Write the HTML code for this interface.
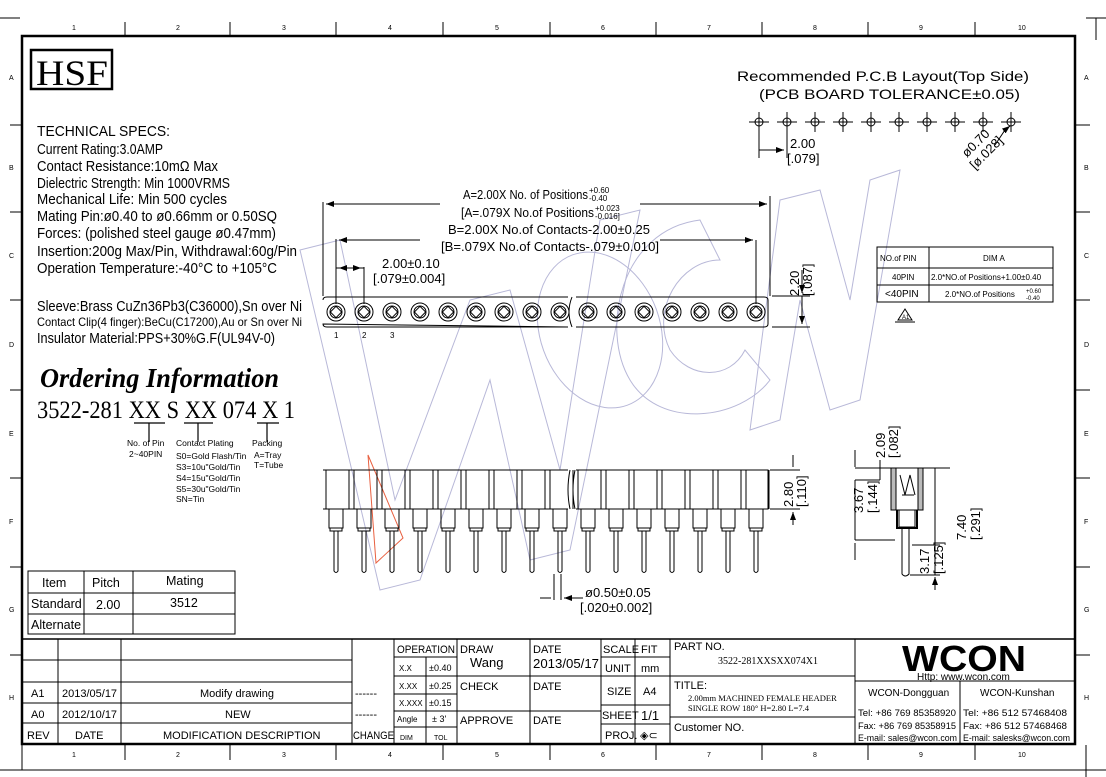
<!DOCTYPE html>
<html><head><meta charset="utf-8"><style>
body{margin:0;background:#fff}
svg{display:block}
text{font-family:"Liberation Sans",sans-serif;fill:#000}
.s{font-family:"Liberation Serif",serif}
</style></head><body>
<svg width="1106" height="777" viewBox="0 0 1106 777" xmlns="http://www.w3.org/2000/svg">
<defs>
<marker id="a" markerWidth="8" markerHeight="6" refX="8" refY="3" orient="auto" markerUnits="userSpaceOnUse"><path d="M0,0 L8,3 L0,6 z" fill="#000"/></marker>
</defs>
<g stroke="#000" fill="none">
<rect x="22" y="36" width="1053" height="708" stroke-width="2.5"/>
<path d="M0,18 H20 M1086,18 H1106 M1096,18 V40 M0,770 H1106 M1086,745 V777 M22,745 V770" stroke-width="1"/>
<g stroke-width="1">
<path d="M125,22 V36 M230,22 V36 M336,22 V36 M443,22 V36 M550,22 V36 M656,22 V36 M762,22 V36 M868,22 V36 M975,22 V36"/>
<path d="M125,744 V760 M230,744 V760 M336,744 V760 M443,744 V760 M550,744 V760 M656,744 V760 M762,744 V760 M868,744 V760 M975,744 V760"/>
<path d="M10,125 H22 M10,212 H22 M10,300 H22 M10,390 H22 M10,478 H22 M10,567 H22 M10,655 H22 M1075,125 H1090 M1075,212 H1090 M1075,300 H1090 M1075,390 H1090 M1075,478 H1090 M1075,567 H1090 M1075,655 H1090"/>
</g>
<rect x="31" y="50" width="81" height="39" stroke-width="2.5"/>
</g>
<g font-size="7" class="s">
<text x="72" y="30">1</text><text x="176" y="30">2</text><text x="282" y="30">3</text><text x="388" y="30">4</text><text x="495" y="30">5</text><text x="601" y="30">6</text><text x="707" y="30">7</text><text x="813" y="30">8</text><text x="919" y="30">9</text><text x="1018" y="30">10</text>
<text x="72" y="757">1</text><text x="176" y="757">2</text><text x="282" y="757">3</text><text x="388" y="757">4</text><text x="495" y="757">5</text><text x="601" y="757">6</text><text x="707" y="757">7</text><text x="813" y="757">8</text><text x="919" y="757">9</text><text x="1018" y="757">10</text>
<text x="9" y="80">A</text><text x="9" y="170">B</text><text x="9" y="258">C</text><text x="9" y="347">D</text><text x="9" y="436">E</text><text x="9" y="524">F</text><text x="9" y="612">G</text><text x="9" y="700">H</text>
<text x="1084" y="80">A</text><text x="1084" y="170">B</text><text x="1084" y="258">C</text><text x="1084" y="347">D</text><text x="1084" y="436">E</text><text x="1084" y="524">F</text><text x="1084" y="612">G</text><text x="1084" y="700">H</text>
</g>
<text x="36" y="85" class="s" font-size="36" textLength="72" lengthAdjust="spacingAndGlyphs">HSF</text>

<g font-size="15">
<text x="37" y="136" textLength="133" lengthAdjust="spacingAndGlyphs">TECHNICAL SPECS:</text>
<text x="37" y="154" textLength="126" lengthAdjust="spacingAndGlyphs">Current Rating:3.0AMP</text>
<text x="37" y="171" textLength="181" lengthAdjust="spacingAndGlyphs">Contact Resistance:10mΩ  Max</text>
<text x="37" y="188" textLength="193" lengthAdjust="spacingAndGlyphs">Dielectric Strength: Min 1000VRMS</text>
<text x="37" y="204" textLength="190" lengthAdjust="spacingAndGlyphs">Mechanical Life: Min 500 cycles</text>
<text x="37" y="221" textLength="240" lengthAdjust="spacingAndGlyphs">Mating Pin:ø0.40 to ø0.66mm or 0.50SQ</text>
<text x="37" y="238" textLength="239" lengthAdjust="spacingAndGlyphs">Forces: (polished steel gauge ø0.47mm)</text>
<text x="37" y="256" textLength="260" lengthAdjust="spacingAndGlyphs">Insertion:200g Max/Pin,  Withdrawal:60g/Pin</text>
<text x="37" y="273" textLength="240" lengthAdjust="spacingAndGlyphs">Operation Temperature:-40°C to +105°C</text>
<text x="37" y="311" textLength="265" lengthAdjust="spacingAndGlyphs">Sleeve:Brass CuZn36Pb3(C36000),Sn over Ni</text>
<text x="37" y="326" font-size="12" textLength="265" lengthAdjust="spacingAndGlyphs">Contact Clip(4 finger):BeCu(C17200),Au or Sn over Ni</text>
<text x="37" y="343" textLength="238" lengthAdjust="spacingAndGlyphs">Insulator Material:PPS+30%G.F(UL94V-0)</text>
</g>
<text x="40" y="387" class="s" font-size="27" font-weight="bold" font-style="italic" textLength="239" lengthAdjust="spacingAndGlyphs">Ordering Information</text>
<text x="37" y="418" class="s" font-size="25" textLength="258" lengthAdjust="spacingAndGlyphs">3522-281 XX S XX 074 X 1</text>
<g stroke="#000" stroke-width="1.2">
<path d="M134,423 H165 M184,423 H213 M257,423 H279"/>
<path d="M149,423 V442 M198,423 V442 M267,423 V442"/>
</g>
<g class="s" font-size="8.5">
<text x="127" y="446">No. of Pin</text><text x="129" y="457">2~40PIN</text>
<text x="176" y="446">Contact Plating</text>
<text x="176" y="459">S0=Gold Flash/Tin</text><text x="176" y="470">S3=10u"Gold/Tin</text><text x="176" y="481">S4=15u"Gold/Tin</text><text x="176" y="492">S5=30u"Gold/Tin</text><text x="176" y="502">SN=Tin</text>
<text x="252" y="446">Packing</text><text x="254" y="458">A=Tray</text><text x="254" y="468">T=Tube</text>
</g>

<g stroke="#b8b8d8" fill="none" stroke-width="1">
<path d="M300,250 L340,240 L395,500 L470,300 L510,290 L560,470 L600,220 L640,210 L570,550 L530,560 L490,380 L420,580 L380,590 Z"/>
<path d="M700,220 C620,230 600,330 630,380 C660,430 740,420 770,380 L745,350 C730,380 690,380 670,350 C650,310 680,260 720,260 Z"/>
<ellipse cx="600" cy="330" rx="60" ry="80" transform="rotate(-20 600 330)"/>
<path d="M780,200 L820,190 L850,300 L870,180 L900,170 L860,400 L830,410 L800,300 L780,420 L750,430 Z"/>
</g>
<path d="M368,455 L403,538 L376,563 Z" stroke="#e86040" fill="none"/>

<g stroke="#000" fill="none" stroke-width="1">
<path d="M323,300 Q323,297 327,297 H568 M576,297 H764 Q768,297 768,300 V324 Q768,327 764,327 H576 M568,327 H327 Q323,327 323,324 Z"/>
<path d="M572,297 Q566,312 572,327"/>
<g id="c"><circle cx="336" cy="312" r="9"/><circle cx="336" cy="312" r="6"/><rect x="332" y="308" width="8" height="8" transform="rotate(45 336 312)"/></g>
<use href="#c" x="28"/><use href="#c" x="56"/><use href="#c" x="84"/><use href="#c" x="112"/><use href="#c" x="140"/><use href="#c" x="168"/><use href="#c" x="196"/><use href="#c" x="224"/><use href="#c" x="252"/><use href="#c" x="280"/><use href="#c" x="308"/><use href="#c" x="336"/><use href="#c" x="364"/><use href="#c" x="392"/><use href="#c" x="420"/>
<path d="M323,296 V202 M770,296 V196 M336,304 V239 M756,304 V240 M364,304 V267 M336,268 H364"/>
<path d="M440,204 H326" marker-end="url(#a)"/><path d="M640,204 H767" marker-end="url(#a)"/>
<path d="M420,240 H339" marker-end="url(#a)"/><path d="M660,240 H753" marker-end="url(#a)"/>
<path d="M350,268 H339" marker-end="url(#a)"/><path d="M350,268 H361" marker-end="url(#a)"/>
<path d="M772,296 H810 M772,327 H810 M802,270 V293" marker-end="url(#a)"/>
<path d="M802,312 V296 M802,312 V324" marker-end="url(#a)"/>
</g>
<g font-size="13">
<text x="463" y="199" textLength="125" lengthAdjust="spacingAndGlyphs">A=2.00X No. of Positions</text>
<text x="589" y="193" font-size="8">+0.60</text><text x="589" y="201" font-size="8">-0.40</text>
<text x="461" y="217" textLength="133" lengthAdjust="spacingAndGlyphs">[A=.079X No.of Positions</text>
<text x="595" y="211" font-size="8">+0.023</text><text x="595" y="219" font-size="8">-0.016]</text>
<text x="448" y="234" textLength="202" lengthAdjust="spacingAndGlyphs">B=2.00X No.of Contacts-2.00±0.25</text>
<text x="441" y="251" textLength="218" lengthAdjust="spacingAndGlyphs">[B=.079X No.of Contacts-.079±0.010]</text>
<text x="382" y="268">2.00±0.10</text>
<text x="373" y="283">[.079±0.004]</text>
</g>
<g class="s" font-size="8"><text x="334" y="338">1</text><text x="362" y="338">2</text><text x="390" y="338">3</text></g>
<g font-size="13"><text transform="translate(799,296) rotate(-90)">2.20</text><text transform="translate(812,296) rotate(-90)">[.087]</text></g>

<g stroke="#000" fill="none" stroke-width="1">
<path d="M323,470 H568 M576,470 H768 V509 H576 M568,509 H323 Z"/>
<path d="M570,470 Q566,490 570,509 M575,470 Q571,490 575,509"/>
<g id="p"><path d="M326,470 V509 M349,470 V509 M329,509 V528 H343 V509 M330,528 V531 H342 V528 M334,531 V571 Q336,574 338,571 V531"/></g>
<use href="#p" x="28"/><use href="#p" x="56"/><use href="#p" x="84"/><use href="#p" x="112"/><use href="#p" x="140"/><use href="#p" x="168"/><use href="#p" x="196"/><use href="#p" x="224"/><use href="#p" x="252"/><use href="#p" x="280"/><use href="#p" x="308"/><use href="#p" x="336"/><use href="#p" x="364"/><use href="#p" x="392"/><use href="#p" x="420"/>
<path d="M770,470 H800 M770,509 H800 M793,455 V467 M793,525 V512" marker-end="url(#a)"/>
<path d="M554,574 V600 M561,574 V600 M540,598 H551 M580,598 H564" marker-end="url(#a)"/>
<path d="M580,598 H583"/>
</g>
<g font-size="13"><text transform="translate(793,507) rotate(-90)">2.80</text><text transform="translate(806,507) rotate(-90)">[.110]</text>
<text x="585" y="597">ø0.50±0.05</text><text x="580" y="612">[.020±0.002]</text></g>

<g stroke="#000" fill="none" stroke-width="1">
<rect x="891" y="468" width="32" height="42" fill="#bbb"/>
<rect x="896" y="468" width="22" height="42" fill="#fff"/>
<path d="M900,475 L905,495 L910,475 L915,495 M902,495 H914"/>
<rect x="899" y="510" width="16" height="17" fill="#fff"/>
<path d="M897,510 V528 H917 V510" stroke-width="2"/>
<path d="M902,528 V574 Q905,578 909,574 V528"/>
<path d="M855,468 H950 M855,480 H880 M855,540 H895 M912,545 H940 M910,575 H940 M880,460 V478 M880,468 V480 M855,480 V540 M935,545 V575 M935,468 V575"/>
<path d="M855,450 V467 M855,560 V543 M935,530 V542 M935,590 V577" marker-end="url(#a)"/>
</g>
<g font-size="13"><text transform="translate(863,513) rotate(-90)">3.67</text><text transform="translate(877,513) rotate(-90)">[.144]</text>
<text transform="translate(885,458) rotate(-90)">2.09</text><text transform="translate(898,458) rotate(-90)">[.082]</text>
<text transform="translate(929,574) rotate(-90)">3.17</text><text transform="translate(943,574) rotate(-90)">[.125]</text>
<text transform="translate(966,540) rotate(-90)">7.40</text><text transform="translate(980,540) rotate(-90)">[.291]</text></g>

<g font-size="14"><text x="737" y="81" textLength="292" lengthAdjust="spacingAndGlyphs">Recommended P.C.B Layout(Top Side)</text>
<text x="759" y="99" textLength="261" lengthAdjust="spacingAndGlyphs">(PCB BOARD TOLERANCE±0.05)</text></g>
<g stroke="#000" fill="none" stroke-width="1">
<g id="h"><circle cx="759" cy="122" r="4"/><path d="M749,122 H769 M759,112 V132"/></g>
<use href="#h" x="28"/><use href="#h" x="56"/><use href="#h" x="84"/><use href="#h" x="112"/><use href="#h" x="140"/><use href="#h" x="168"/><use href="#h" x="196"/><use href="#h" x="224"/><use href="#h" x="252"/>
<path d="M759,127 V158 M787,127 V158 M759,150 H784" marker-end="url(#a)"/>
<path d="M995,145 L1005,130 L1010,126" marker-end="url(#a)"/>
</g>
<g font-size="13"><text x="790" y="148">2.00</text><text x="787" y="163">[.079]</text>
<text transform="translate(967,158) rotate(-45)">ø0.70</text><text transform="translate(975,170) rotate(-45)">[ø.028]</text></g>

<g stroke="#000" fill="none" stroke-width="1">
<rect x="877" y="247" width="176" height="55"/>
<path d="M877,268 H1053 M877,285 H1053 M929,247 V302"/>
<path d="M898,320 L905,309 L912,320 Z M895,322 H915"/>
</g>
<g font-size="8">
<text x="880" y="261">NO.of PIN</text><text x="983" y="261">DIM A</text>
<text x="892" y="280">40PIN</text><text x="931" y="280">2.0*NO.of Positions+1.00±0.40</text>
<text x="885" y="297" font-size="10">&lt;40PIN</text><text x="945" y="297">2.0*NO.of Positions</text>
<text x="1026" y="293" font-size="6">+0.60</text><text x="1026" y="300" font-size="6">-0.40</text>
<text x="902" y="319" font-size="6">A1</text>
</g>

<g stroke="#000" fill="none" stroke-width="1">
<rect x="28" y="571" width="207" height="63"/>
<path d="M28,593 H235 M28,614 H235 M84,571 V634 M133,571 V634"/>
</g>
<g font-size="12.5">
<text x="42" y="587">Item</text><text x="92" y="587">Pitch</text><text x="166" y="585">Mating</text>
<text x="31" y="608">Standard</text><text x="96" y="609">2.00</text><text x="170" y="607">3512</text>
<text x="31" y="629">Alternate</text>
</g>

<g stroke="#000" fill="none" stroke-width="1">
<path d="M22,639 H1075" stroke-width="1.5"/>
<path d="M22,660 H352 M22,682 H352 M22,703 H352 M22,723 H352"/>
<path d="M58,639 V744 M121,639 V744 M352,639 V744 M394,639 V744"/>
<path d="M394,657 H457 M394,676 H457 M394,694 H457 M394,711 H457 M394,727 H457 M426,657 V744 M457,639 V744"/>
<path d="M457,676 H601 M457,711 H601 M530,639 V744 M601,639 V744 M635,639 V744"/>
<path d="M601,657 H670 M601,676 H670 M601,705 H670 M601,724 H670 M670,639 V744"/>
<path d="M670,676 H855 M670,717 H855 M855,639 V744 M855,681 H1075 M960,681 V744"/>
</g>
<g font-size="11">
<text x="31" y="697">A1</text><text x="62" y="697">2013/05/17</text><text x="200" y="697">Modify drawing</text><text x="355" y="697">------</text>
<text x="31" y="718">A0</text><text x="62" y="718">2012/10/17</text><text x="225" y="718">NEW</text><text x="355" y="718">------</text>
<text x="27" y="739">REV</text><text x="75" y="739">DATE</text><text x="163" y="739">MODIFICATION DESCRIPTION</text><text x="353" y="739" textLength="41" lengthAdjust="spacingAndGlyphs">CHANGE</text>
<text x="397" y="653" textLength="58" lengthAdjust="spacingAndGlyphs">OPERATION</text>
<text x="399" y="671" font-size="8">X.X</text><text x="429" y="671" font-size="9">±0.40</text>
<text x="399" y="689" font-size="8">X.XX</text><text x="429" y="689" font-size="9">±0.25</text>
<text x="399" y="706" font-size="8">X.XXX</text><text x="429" y="706" font-size="9">±0.15</text>
<text x="397" y="722" font-size="8">Angle</text><text x="432" y="722" font-size="9">± 3'</text>
<text x="400" y="740" font-size="7">DIM</text><text x="434" y="740" font-size="7">TOL</text>
<text x="460" y="653">DRAW</text><text x="470" y="667" font-size="13">Wang</text><text x="460" y="690">CHECK</text><text x="460" y="724">APPROVE</text>
<text x="533" y="653">DATE</text><text x="533" y="668" font-size="13" textLength="66" lengthAdjust="spacingAndGlyphs">2013/05/17</text><text x="533" y="690">DATE</text><text x="533" y="724">DATE</text>
<text x="603" y="653">SCALE</text><text x="641" y="653">FIT</text>
<text x="605" y="672">UNIT</text><text x="641" y="672">mm</text>
<text x="607" y="695">SIZE</text><text x="643" y="695">A4</text>
<text x="602" y="719">SHEET</text><text x="641" y="720" font-size="13">1/1</text>
<text x="605" y="739">PROJ.</text><text x="640" y="739">◈⊂</text>
<text x="674" y="650">PART NO.</text><text x="718" y="664" class="s" font-size="10">3522-281XXSXX074X1</text>
<text x="674" y="689">TITLE:</text>
<text x="688" y="701" class="s" font-size="8.5">2.00mm MACHINED FEMALE HEADER</text>
<text x="688" y="711" class="s" font-size="8.5">SINGLE ROW 180° H=2.80 L=7.4</text>
<text x="674" y="731">Customer NO.</text>
<text x="917" y="680" font-size="10">Http: www.wcon.com</text>
<text x="868" y="696" font-size="10">WCON-Dongguan</text><text x="980" y="696" font-size="10">WCON-Kunshan</text>
<text x="858" y="716" font-size="9" textLength="98" lengthAdjust="spacingAndGlyphs">Tel: +86 769 85358920</text><text x="963" y="716" font-size="9" textLength="104" lengthAdjust="spacingAndGlyphs">Tel: +86 512 57468408</text>
<text x="858" y="729" font-size="9" textLength="98" lengthAdjust="spacingAndGlyphs">Fax: +86 769 85358915</text><text x="963" y="729" font-size="9" textLength="104" lengthAdjust="spacingAndGlyphs">Fax: +86 512 57468468</text>
<text x="858" y="741" font-size="9" textLength="99" lengthAdjust="spacingAndGlyphs">E-mail: sales@wcon.com</text><text x="963" y="741" font-size="9" textLength="107" lengthAdjust="spacingAndGlyphs">E-mail: salesks@wcon.com</text>
</g>
<text x="902" y="671" font-size="36" font-weight="bold" textLength="124" lengthAdjust="spacingAndGlyphs">WCON</text>
</svg>
</body></html>
